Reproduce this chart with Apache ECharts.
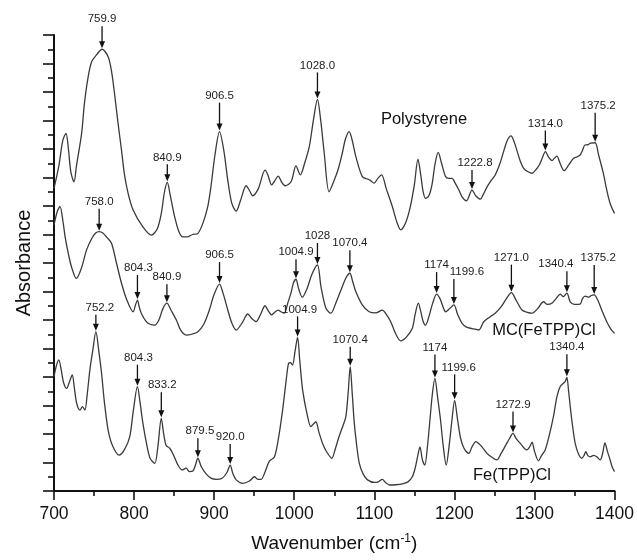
<!DOCTYPE html>
<html>
<head>
<meta charset="utf-8">
<script src="https://cdn.jsdelivr.net/npm/echarts@6/dist/echarts.min.js"></script>
<style>
  html, body { margin: 0; padding: 0; background: #fff; }
  #chart { width: 637px; height: 560px; }
</style>
</head>
<body>
<div id="chart"></div>
<script>
// spectra: [wavenumber, absorbance (arb. units, stacked)]
var polystyrene = [
  [700,10.62],[706,11.4],[711,12.3],[715,12.55],[718,12.0],[721,11.2],[725,10.85],[728,11.4],[734.5,12.55],[738,13.6],
  [742.7,14.54],[747,15.06],[753,15.3],[760,15.5],[767.6,15.24],[772,14.7],[776,13.85],[780,12.9],[784.3,11.96],[788,11.1],
  [792.5,10.45],[798.8,9.86],[811,9.27],[821.7,8.98],[829,9.2],[834,9.74],[838,10.5],[841.5,10.83],[845,10.4],[850.7,9.62],
  [856,9.1],[861,8.92],[867,8.92],[873,9.0],[879.7,9.04],[886,9.4],[892,9.98],[896,10.68],[901,11.79],[906.7,12.61],
  [912,11.96],[917,10.91],[922,10.1],[927.5,9.82],[933,10.2],[940,10.71],[944,10.55],[948,10.36],[955,10.6],[963.6,11.26],
  [967,11.1],[971.9,10.74],[976,10.9],[980,11.05],[984,10.85],[988.5,10.71],[996,10.85],[1002.2,11.41],[1007.6,11.09],[1013,11.5],
  [1018.8,12.08],[1024,13.02],[1029,13.74],[1033,13.02],[1037.5,11.85],[1043.5,10.5],[1050,10.91],[1055,11.3],[1060,11.85],[1064,12.35],
  [1068.6,12.61],[1072,12.35],[1077,11.73],[1085,11.03],[1092,10.94],[1095,10.9],[1099.7,10.8],[1104,10.95],[1109,11.09],[1115,10.6],
  [1122.5,9.98],[1128,9.45],[1133,9.16],[1139,9.4],[1145,9.98],[1150,10.74],[1154.5,11.64],[1158,11.09],[1161,10.5],[1164,10.27],
  [1168,10.35],[1172,10.74],[1176,11.5],[1179.8,11.88],[1184,11.5],[1189,11.03],[1193,10.97],[1197,10.97],[1201,10.8],[1205.6,10.56],
  [1210,10.3],[1215,10.18],[1222,10.56],[1227,10.35],[1232.6,10.24],[1236,10.4],[1241,10.68],[1246,10.9],[1251,11.09],[1257,11.5],
  [1262,11.96],[1266,12.3],[1270.7,12.46],[1274,12.3],[1278,11.96],[1282,11.6],[1286.5,11.32],[1292,11.2],[1297,11.15],[1302,11.28],
  [1306,11.44],[1310,11.7],[1313.6,11.91],[1318,11.7],[1322,11.59],[1325,11.68],[1328,11.75],[1332,11.5],[1337,11.24],[1343,11.45],
  [1348.8,11.67],[1353,11.72],[1357,11.79],[1360,11.95],[1363,12.14],[1367,12.15],[1370,12.21],[1375.8,12.22],[1380,11.8],[1386,11.15],
  [1390,10.6],[1394.5,10.09],[1400,9.74]
];

var mcFeTPP = [
  [700,9.33],[704,9.8],[707.5,9.98],[711,9.5],[714,8.9],[717.8,8.34],[722,7.85],[728,7.46],[734,7.8],[740.7,8.46],
  [747,8.85],[752,9.05],[756.4,9.1],[761,9.05],[766,8.9],[771.8,8.69],[778,8.0],[784.3,7.29],[791,6.7],[798.8,6.29],
  [802,6.55],[804.2,6.7],[806.5,6.45],[809,6.24],[815,5.95],[820,5.85],[825.8,5.82],[831,6.0],[836,6.4],[841,6.59],
  [846,6.35],[852.8,6.0],[858,5.65],[865,5.47],[872,5.5],[879.7,5.59],[887,5.85],[894,6.35],[900,6.9],[906.7,7.26],
  [911,6.95],[917,6.35],[922,5.9],[927.5,5.65],[935,5.9],[942,6.21],[947,6.05],[952.4,5.94],[958,6.2],[963.6,6.5],
  [967,6.35],[971.9,6.18],[976,6.28],[980,6.35],[984,6.28],[987.7,6.24],[992,6.6],[996,6.95],[999,7.3],[1002.2,7.43],
  [1005.5,7.1],[1010,6.8],[1016,7.1],[1022,7.6],[1029,7.93],[1033.4,7.17],[1039.6,6.41],[1045.8,6.24],[1052,6.6],[1060,7.17],
  [1065,7.5],[1069.5,7.64],[1073,7.35],[1077,6.99],[1085,6.53],[1093.5,6.29],[1102,6.25],[1110,6.35],[1115,6.2],[1120.5,5.94],
  [1127,5.5],[1133,5.27],[1140,5.4],[1147.5,5.71],[1151,6.2],[1155,6.59],[1158,6.3],[1161,5.95],[1164,5.82],[1168,6.1],
  [1173,6.6],[1177.8,6.91],[1182,6.75],[1186,6.45],[1189,6.29],[1194,6.4],[1199.4,6.53],[1204,6.2],[1209.7,5.88],[1215,5.75],
  [1222,5.7],[1230.5,5.65],[1236.7,5.94],[1244,6.1],[1251,6.24],[1258,6.45],[1265,6.75],[1271.2,6.96],[1277,6.7],[1284.4,6.35],
  [1290,6.28],[1297,6.24],[1304,6.4],[1311.4,6.64],[1316,6.55],[1321.8,6.59],[1327,6.75],[1332.2,6.91],[1336,6.82],[1340.5,6.94],
  [1344.7,6.64],[1350,6.55],[1357,6.56],[1360,6.75],[1363.3,6.84],[1368,6.8],[1371,6.86],[1374.6,6.88],[1379,6.7],[1384,6.35],
  [1390.3,5.94],[1395,5.7],[1400,5.53]
];

var feTPP = [
  [700,4.01],[703,4.4],[706,4.6],[709,4.25],[712,3.8],[715.8,3.6],[719.5,3.85],[722.8,4.07],[725.5,3.6],[728.3,3.08],
  [732.4,2.84],[735.5,2.96],[738.6,2.84],[741.5,3.4],[744.8,4.25],[748.5,4.95],[752.3,5.59],[756,4.9],[759.4,4.13],[763,3.1],
  [767.6,2.14],[773,1.6],[781.3,1.26],[788,1.45],[794.6,1.91],[799,2.8],[804.2,3.66],[807.5,3.1],[811,2.38],[816,1.6],
  [820,1.15],[825.8,0.97],[829.5,1.5],[834,2.55],[837,2.0],[840,1.6],[844.5,1.5],[848.6,1.3],[854.8,0.91],[860,0.74],
  [865,0.8],[869,0.68],[873.5,0.7],[876.5,0.9],[879.7,1.15],[884,0.85],[890,0.6],[896,0.45],[902.6,0.41],[910,0.45],
  [916,0.65],[920,0.91],[923.5,0.6],[927.5,0.39],[935.8,0.27],[944,0.35],[950.3,0.5],[954,0.42],[958.6,0.41],[964,0.7],
  [969,1.05],[975.2,1.19],[980,1.8],[985.5,2.84],[990,3.9],[992.9,4.48],[995.5,4.5],[997.9,4.42],[1001,4.9],[1004.2,5.39],
  [1007,4.55],[1010.5,3.54],[1016.7,2.61],[1020.8,2.26],[1024,2.35],[1027,2.43],[1031,2.05],[1035.4,1.67],[1041,1.35],[1047,1.15],
  [1051,1.45],[1056,1.91],[1061,2.3],[1064.5,2.61],[1067.5,3.5],[1069.9,4.36],[1072.5,3.4],[1075,2.38],[1078,1.6],[1081.3,0.97],
  [1086,0.6],[1091.6,0.39],[1100,0.3],[1105,0.32],[1110,0.41],[1114,0.3],[1119,0.21],[1127,0.22],[1135,0.25],[1142,0.32],
  [1147.5,0.5],[1151,0.8],[1154,1.2],[1157,1.55],[1160,1.1],[1163,0.91],[1166.5,1.6],[1169.5,2.5],[1172.5,3.4],[1175.7,3.95],
  [1179,3.3],[1182.7,2.49],[1186,1.6],[1189.8,0.91],[1193.5,1.6],[1197,2.5],[1200.3,3.18],[1204,2.5],[1207.7,1.86],[1212,1.5],
  [1218,1.32],[1222,1.55],[1227,1.73],[1231,1.65],[1234.5,1.55],[1240.7,1.32],[1246,1.2],[1253,1.09],[1258,1.3],[1264,1.6],
  [1269,1.85],[1273.2,2.02],[1277,1.85],[1282.3,1.67],[1290.5,1.44],[1294,1.55],[1297,1.71],[1300,1.4],[1305,1.06],[1309,1.25],
  [1313.4,1.44],[1318,1.9],[1323.7,2.61],[1328,3.3],[1332,3.66],[1336.1,3.78],[1338.5,3.85],[1340.5,3.99],[1342.5,3.55],[1344.7,2.96],
  [1347.5,2.3],[1350.9,1.67],[1355,1.3],[1359.2,1.15],[1362,1.25],[1364.1,1.38],[1366.5,1.25],[1369.6,1.2],[1374,1.25],[1377.8,1.2],
  [1382,1.09],[1385,1.3],[1388,1.69],[1391,1.4],[1394.5,1.09],[1397,0.85],[1400,0.68]
];

// peak marks: [arrow position (wavenumber), label]
var psPeaks = [[760,'759.9'],[841.5,'840.9'],[906.7,'906.5'],[1029,'1028.0'],[1222,'1222.8'],[1313.6,'1314.0'],[1375.8,'1375.2']];
var mcPeaks = [[756.4,'758.0'],[804.2,'804.3'],[841,'840.9'],[906.7,'906.5'],[1002.2,'1004.9'],[1029,'1028'],[1069.5,'1070.4'],
  [1177.8,'1174'],[1199.4,'1199.6'],[1271.2,'1271.0'],[1340.5,'1340.4'],[1374.6,'1375.2']];
var fePeaks = [[752.3,'752.2'],[804.2,'804.3'],[834,'833.2'],[879.7,'879.5'],[920,'920.0'],[1004.2,'1004.9'],[1069.9,'1070.4'],
  [1175.7,'1174'],[1200.3,'1199.6'],[1273.2,'1272.9'],[1340.5,'1340.4']];

// arrow length and label nudge in px, per mark
var psArrows = [[22,0],[17,0],[28,0],[26,0],[19,3],[20,0],[29,3]];
var mcArrows = [[22,0],[24,1],[18,0],[21,0],[19,0],[21,0],[22,0],[21,0],[25,13],[27,0],[21,-11],[29,4]];
var feArrows = [[16,4],[21,1],[25,1],[19,2],[20,0],[20,2],[19,0],[23,0],[25,4],[21,0],[22,0]];

var FONT = '"Liberation Sans", Arial, Helvetica, sans-serif';

function valueAt(spec, w) {
  for (var i = 1; i < spec.length; i++) {
    if (spec[i][0] >= w) {
      var a = spec[i - 1], b = spec[i];
      return a[1] + (b[1] - a[1]) * (w - a[0]) / (b[0] - a[0]);
    }
  }
  return spec[spec.length - 1][1];
}

function spectrum(name, spec) {
  return {
    name: name, type: 'line', data: spec, showSymbol: false, smooth: 0.3,
    lineStyle: { color: '#3a3a3a', width: 1.3 }, silent: true
  };
}

function peakMarks(spec, peaks, arrows) {
  return {
    type: 'custom', silent: true, z: 5,
    data: peaks.map(function (p) { return [p[0], valueAt(spec, p[0])]; }),
    renderItem: function (params, api) {
      var i = params.dataIndex;
      var pt = api.coord([api.value(0), api.value(1)]);
      var len = arrows[i][0], dx = arrows[i][1];
      var x = pt[0], tip = pt[1] - 1;
      return {
        type: 'group',
        children: [
          { type: 'line', shape: { x1: x, y1: tip - len, x2: x, y2: tip - 6 },
            style: { stroke: '#111', lineWidth: 1.3 } },
          { type: 'polygon', shape: { points: [[x - 3, tip - 7], [x + 3, tip - 7], [x, tip]] },
            style: { fill: '#111' } },
          { type: 'text', x: x + dx, y: tip - len - 1,
            style: { text: peaks[i][1], fill: '#222', fontSize: 11.5, fontFamily: FONT,
                     align: 'center', verticalAlign: 'bottom' } }
        ]
      };
    }
  };
}

var chart = echarts.init(document.getElementById('chart'));

var option = {
  animation: false,
  grid: { left: 54, right: 21, top: 35, bottom: 69 },
  xAxis: {
    type: 'value', min: 700, max: 1400, interval: 100,
    name: 'Wavenumber (cm{sup|-1})', nameLocation: 'middle', nameGap: 42,
    nameTextStyle: {
      color: '#111', fontSize: 19, fontFamily: FONT,
      rich: { sup: { fontSize: 12, fontFamily: FONT, color: '#111', padding: [0, 0, 9, 0] } }
    },
    axisLine: { lineStyle: { color: '#111', width: 2 } },
    axisTick: { length: 9, lineStyle: { color: '#111', width: 1.6 } },
    minorTick: { show: true, splitNumber: 2, length: 5, lineStyle: { color: '#111', width: 1.6 } },
    axisLabel: {
      color: '#111', fontSize: 17.5, fontFamily: FONT, margin: 14,
      formatter: function (v) { return String(v); }
    },
    splitLine: { show: false }
  },
  yAxis: {
    type: 'value', min: 0, max: 16, interval: 1,
    name: 'Absorbance', nameLocation: 'middle', nameGap: 20,
    nameTextStyle: { color: '#111', fontSize: 20, fontFamily: FONT },
    axisLine: { show: true, lineStyle: { color: '#111', width: 2 } },
    axisTick: { show: true, length: 11, lineStyle: { color: '#111', width: 1.6 } },
    minorTick: { show: true, splitNumber: 2, length: 6, lineStyle: { color: '#111', width: 1.6 } },
    axisLabel: { show: false },
    splitLine: { show: false }
  },
  graphic: [
    { type: 'text', x: 424, y: 119, style: { text: 'Polystyrene', fontSize: 16.5, fontFamily: FONT, fill: '#111', align: 'center', verticalAlign: 'middle' } },
    { type: 'text', x: 544, y: 330, style: { text: 'MC(FeTPP)Cl', fontSize: 16.5, fontFamily: FONT, fill: '#111', align: 'center', verticalAlign: 'middle' } },
    { type: 'text', x: 512, y: 475, style: { text: 'Fe(TPP)Cl', fontSize: 16.5, fontFamily: FONT, fill: '#111', align: 'center', verticalAlign: 'middle' } }
  ],
  series: [
    spectrum('Polystyrene', polystyrene),
    spectrum('MC(FeTPP)Cl', mcFeTPP),
    spectrum('Fe(TPP)Cl', feTPP),
    peakMarks(polystyrene, psPeaks, psArrows),
    peakMarks(mcFeTPP, mcPeaks, mcArrows),
    peakMarks(feTPP, fePeaks, feArrows)
  ]
};

chart.setOption(option);

window.addEventListener('resize', function () {
  chart.resize();
});
</script>
</body>
</html>
